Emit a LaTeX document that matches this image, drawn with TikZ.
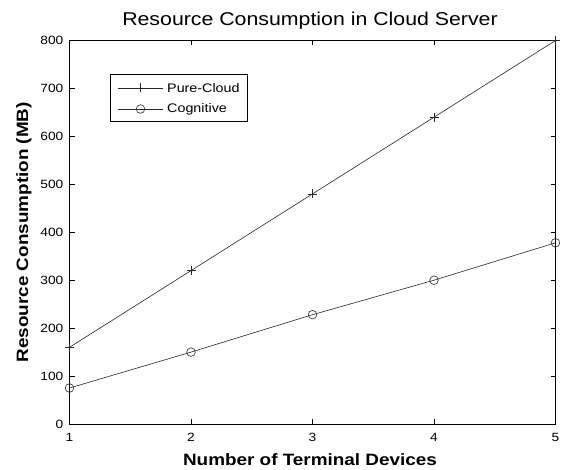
\documentclass[tikz,border=0pt]{standalone}
\usepackage{fontspec}
\setmainfont{Liberation Sans}[FakeStretch=1.15]
\begin{document}
\begin{tikzpicture}[x=1bp,y=-1bp,
  axisline/.style={line width=0.6bp,black},
  dataline/.style={line width=0.6bp,black!85},
  ticklab/.style={font=\fontsize{12}{12}\selectfont,inner sep=0pt},
  legtext/.style={font=\fontsize{12.5}{12.5}\selectfont,inner sep=0pt,anchor=west},
  circmark/.style={circle,draw=black!85,line width=0.6bp,minimum size=8.6bp,inner sep=0pt}]
\useasboundingbox (0,0) rectangle (568,470);

% frame of the axes
\coordinate (ll) at (69.5,424);
\coordinate (ur) at (555.5,40.5);
\draw[axisline] (ll) rectangle (ur);

% x ticks (bottom and top) with labels
\foreach \i in {0,...,4}{
  \pgfmathsetmacro{\xx}{69.5+121.5*\i}
  \pgfmathtruncatemacro{\lab}{\i+1}
  \draw[axisline] (\xx,424) -- (\xx,419);
  \draw[axisline] (\xx,40.5) -- (\xx,45.5);
  \node[ticklab] (xt\lab) at (\xx,437.5) {\lab};
}
% y ticks (left and right) with labels
\foreach \v in {0,100,...,800}{
  \pgfmathsetmacro{\yy}{424-0.479375*\v}
  \draw[axisline] (69.5,\yy) -- (74.5,\yy);
  \draw[axisline] (555.5,\yy) -- (550.5,\yy);
  \node[ticklab,anchor=east] (yt\v) at (63.5,\yy) {\v};
}

% data, in axis units
\begin{scope}[shift={(69.5,424)},x=121.5bp,y=0.479375bp]
  \foreach \i/\p/\c in {0/160/75,1/320/150,2/480/228,3/640/300,4/800/378}{
    \coordinate (pc\i) at (\i,\p);
    \coordinate (cg\i) at (\i,\c);
  }
  \draw[dataline] (pc0) -- (pc1) -- (pc2) -- (pc3) -- (pc4);
  \draw[dataline] (cg0) -- (cg1) -- (cg2) -- (cg3) -- (cg4);
  \foreach \i in {0,...,4}{
    \draw[dataline] (pc\i) +(-4.5bp,0) -- +(4.5bp,0)
                    (pc\i) +(0,-4.5bp) -- +(0,4.5bp);
    \node[circmark] (cm\i) at (cg\i) {};
  }
\end{scope}

% legend
\node[draw,line width=0.6bp,minimum width=137bp,minimum height=47bp,
      inner sep=0pt,anchor=north west] (legend) at (109.5,74) {};
\coordinate (la) at (118,88);  \coordinate (lb) at (163,88);
\coordinate (lm) at (140.5,88);
\draw[dataline] (la) -- (lb);
\draw[dataline] (lm) +(-4.5,0) -- +(4.5,0) (lm) +(0,-4.5) -- +(0,4.5);
\node[legtext] (lt1) at (167,88) {Pure-Cloud};
\coordinate (lc) at (118,109); \coordinate (ld) at (163,109);
\draw[dataline] (lc) -- (ld);
\node[circmark] (lcm) at (140.5,109) {};
\node[legtext] (lt2) at (167,109) {Cognitive};

% title and axis labels
\node[anchor=base,inner sep=0pt,font=\fontsize{18.6}{18.6}\selectfont] (title) at (310,25.7)
  {Resource Consumption in Cloud Server};
\node[anchor=base,inner sep=0pt,font=\fontsize{16.5}{16.5}\selectfont\bfseries] (xlabel) at (310,465)
  {Number of Terminal Devices};
\node[anchor=base,inner sep=0pt,rotate=90,font=\fontsize{16.5}{16.5}\selectfont\bfseries] (ylabel) at (28,232.3)
  {Resource Consumption (MB)};
\end{tikzpicture}
\end{document}
